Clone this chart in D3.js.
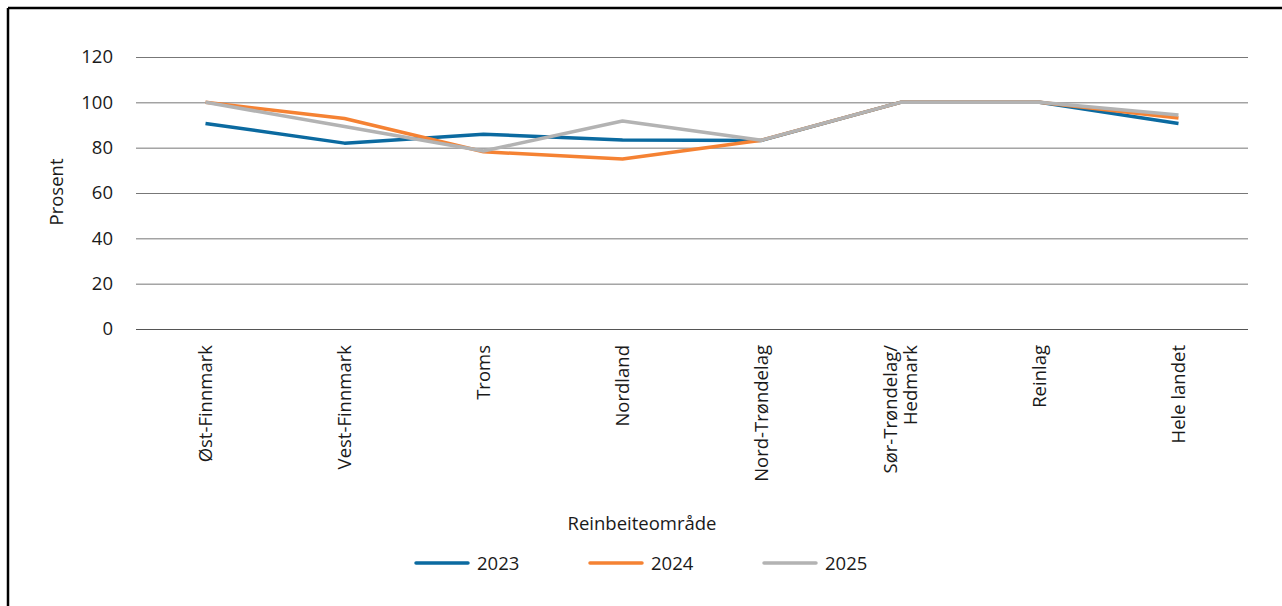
<!DOCTYPE html>
<html><head><meta charset="utf-8">
<script src="https://cdn.jsdelivr.net/npm/d3@7"></script>
<style>
html,body{margin:0;padding:0;background:#fff;}
svg{display:block;font-family:"Open Sans","Noto Sans",sans-serif;}
</style></head>
<body>
<svg id="chart" width="1282" height="606"></svg>
<script>
const categories = ["Øst-Finnmark","Vest-Finnmark","Troms","Nordland","Nord-Trøndelag","Sør-Trøndelag/\nHedmark","Reinlag","Hele landet"];
const years = ["2023","2024","2025"];
const values2023 = [90.7, 82.0, 85.9, 83.4, 83.2, 100, 100, 90.7];
const values2024 = [100, 92.9, 78.2, 75.0, 83.3, 100, 100, 93.1];
const values2025 = [100, 89.3, 78.5, 91.8, 83.3, 100, 100, 94.4];
const yTicks = [0,20,40,60,80,100,120];
const colors = ["#0b6aa0","#f58233","#b3b3b3"];

const series = [values2023, values2024, values2025];
const svg = d3.select("#chart");
const m = {left:136, right:1248, top:57, bottom:329};
const FS = 18.5;
const TXT = "#1a1a1a";

svg.append("rect").attr("x",0).attr("y",0).attr("width",1282).attr("height",606).attr("fill","#fff");
// frame (top and left)
svg.append("line").attr("x1",8).attr("x2",1282).attr("y1",8).attr("y2",8).attr("stroke","#000").attr("stroke-width",2.5);
svg.append("line").attr("x1",8).attr("x2",8).attr("y1",8).attr("y2",606).attr("stroke","#000").attr("stroke-width",2.5);

const x = d3.scaleBand().domain(categories).range([m.left,m.right]);
const y = d3.scaleLinear().domain([0,120]).range([m.bottom,m.top]);

// y axis with gridlines
const yAxis = svg.append("g").attr("transform",`translate(${m.left},0)`)
  .call(d3.axisLeft(y).tickValues(yTicks).tickSize(-(m.right-m.left)).tickPadding(23));
yAxis.select(".domain").remove();
yAxis.selectAll(".tick line").attr("stroke",d=>d===0?"#555":"#777").attr("stroke-width",1);
yAxis.selectAll(".tick text").attr("font-size",FS).attr("fill",TXT).attr("font-family","Open Sans, Noto Sans, sans-serif");

// x axis labels
const xAxis = svg.append("g").attr("transform",`translate(0,${m.bottom})`)
  .call(d3.axisBottom(x).tickSize(0).tickFormat(""));
xAxis.select(".domain").remove();
const xl = svg.append("g");
categories.forEach(c=>{
  const lines = c.split("\n");
  const cx = x(c)+x.bandwidth()/2;
  const t = xl.append("text")
    .attr("transform",`translate(${cx},${m.bottom+16}) rotate(-90)`)
    .attr("text-anchor","end").attr("font-size",FS).attr("fill",TXT);
  const n = lines.length;
  lines.forEach((ln,i)=>{
    t.append("tspan").attr("x",0).attr("dy", i===0 ? ((0.35 - (n-1)*0.55))+"em" : "1.1em").text(ln);
  });
});

// lines
const line = d3.line().x((d,i)=>x(categories[i])+x.bandwidth()/2).y(d=>y(d));
series.forEach((s,k)=>{
  svg.append("path").datum(s).attr("d",line).attr("fill","none")
    .attr("stroke",colors[k]).attr("stroke-width",3.5).attr("stroke-linejoin","round");
});

// axis titles
svg.append("text").attr("transform","translate(63,192) rotate(-90)").attr("text-anchor","middle")
  .attr("font-size",FS).attr("fill",TXT).text("Prosent");
svg.append("text").attr("x",642).attr("y",530).attr("text-anchor","middle")
  .attr("font-size",FS).attr("fill",TXT).text("Reinbeiteområde");

// legend
const legX = [416, 590, 764];
years.forEach((yr,k)=>{
  const g = svg.append("g").attr("transform",`translate(${legX[k]},563)`);
  g.append("line").attr("x1",0).attr("x2",52).attr("y1",0).attr("y2",0).attr("stroke",colors[k]).attr("stroke-width",3.5).attr("stroke-linecap","round");
  g.append("text").attr("x",61).attr("y",6.5).attr("font-size",FS).attr("fill",TXT).text(yr);
});
</script>
</body></html>
